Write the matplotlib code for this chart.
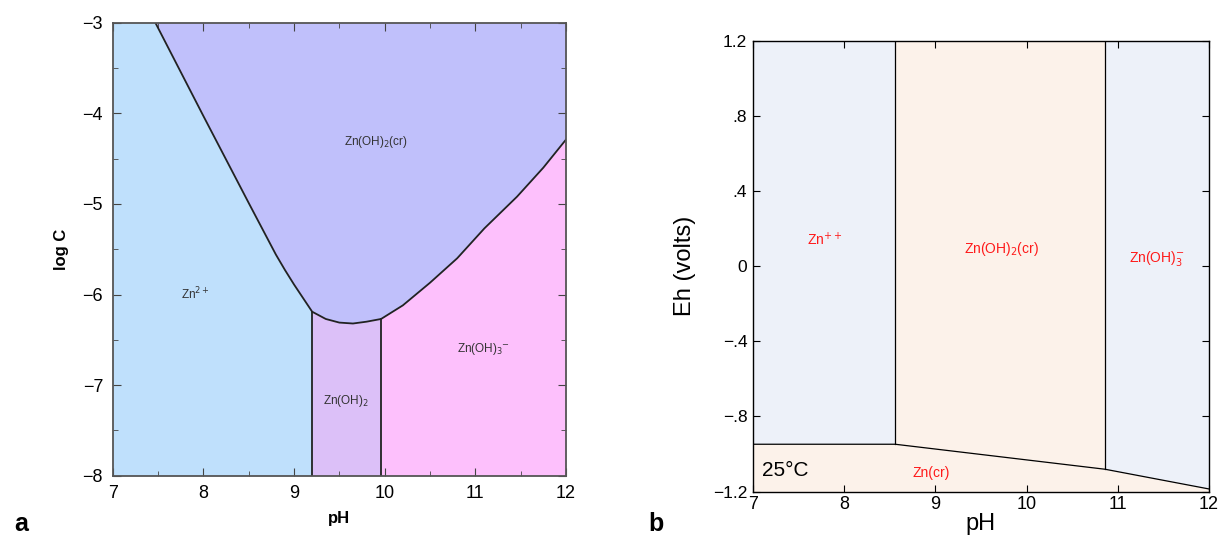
import matplotlib
matplotlib.use('Agg')
import matplotlib.pyplot as plt
import numpy as np

plt.rcParams['font.family'] = ['Liberation Sans', 'DejaVu Sans']

# panel a: log C - pH diagram (solubility boundary of Zn(OH)2(cr))
sol_ph = [7.47, 8.0, 8.5, 8.7, 8.8, 8.9, 9.0, 9.1, 9.2, 9.35, 9.5, 9.65, 9.8, 9.96,
          10.2, 10.5, 10.8, 11.1, 11.46, 11.75, 12.0]
sol_logc = [-3.0, -4.03, -4.99, -5.37, -5.56, -5.73, -5.89, -6.04, -6.19, -6.27, -6.31,
            -6.32, -6.3, -6.27, -6.12, -5.87, -5.6, -5.27, -4.92, -4.6, -4.29]
i_aq = 8      # index of pH 9.2 (Zn2+ / Zn(OH)2 boundary)
i_oh3 = 13    # index of pH 9.96 (Zn(OH)2 / Zn(OH)3- boundary)

# panel b: Eh - pH diagram
eh_ph = [7.0, 8.56, 10.86, 12.0]
eh_zn = [-0.948, -0.948, -1.081, -1.186]

fig = plt.figure(figsize=(12.19, 5.42), dpi=100)

# ---------------- panel a ----------------
ax = fig.add_axes([0.0925, 0.1223, 0.3718, 0.8358])
ax.set_xlim(7, 12)
ax.set_ylim(-8, -3)

x_a = [7.0] + sol_ph[:i_aq + 1]
y_a = [-3.0] + sol_logc[:i_aq + 1]
ax.fill_between(x_a, -8, y_a, color='#bfe0fc', lw=0)
ax.fill_between(sol_ph, sol_logc, -3, color='#c0c0fb', lw=0)
ax.fill_between(sol_ph[i_aq:i_oh3 + 1], -8, sol_logc[i_aq:i_oh3 + 1], color='#dcc0f8', lw=0)
ax.fill_between(sol_ph[i_oh3:], -8, sol_logc[i_oh3:], color='#fdc0fc', lw=0)

ax.plot(sol_ph, sol_logc, color='#222222', lw=1.3)
ax.plot([sol_ph[i_aq]] * 2, [-8, sol_logc[i_aq]], color='#222222', lw=1.3)
ax.plot([sol_ph[i_oh3]] * 2, [-8, sol_logc[i_oh3]], color='#222222', lw=1.3)

ax.text(9.9, -4.32, r'Zn(OH)$_2$(cr)', fontsize=8.5, ha='center', va='center', color='#333333')
ax.text(7.91, -5.99, r'Zn$^{2+}$', fontsize=8.5, ha='center', va='center', color='#333333')
ax.text(9.57, -7.17, r'Zn(OH)$_2$', fontsize=8.5, ha='center', va='center', color='#333333')
ax.text(11.09, -6.6, r'Zn(OH)$_3$$^{-}$', fontsize=8.5, ha='center', va='center', color='#333333')

ax.set_xticks(np.arange(7, 13, 1))
ax.set_xticks(np.arange(7, 12.01, 0.5), minor=True)
ax.set_yticks(np.arange(-8, -2, 1))
ax.set_yticks(np.arange(-8, -2.99, 0.5), minor=True)
ax.set_yticklabels(['\u22128', '\u22127', '\u22126', '\u22125', '\u22124', '\u22123'])
ax.tick_params(which='both', direction='in', top=True, right=True, labelsize=13,
               color='#444444', pad=7)
ax.tick_params(which='major', length=6)
ax.tick_params(which='minor', length=3.5)
for s in ax.spines.values():
    s.set_color('#555555')
    s.set_linewidth(1.3)
ax.set_xlabel('pH', fontsize=12, fontweight='bold', labelpad=6)
ax.set_ylabel('log C', fontsize=12, fontweight='bold', labelpad=10)

# ---------------- panel b ----------------
bx = fig.add_axes([0.6176, 0.0930, 0.3742, 0.8320])
bx.set_xlim(7, 12)
bx.set_ylim(-1.2, 1.2)

blue = '#edf1f9'
peach = '#fcf2ea'
bx.fill_between(eh_ph[:2], eh_zn[:2], 1.2, color=blue, lw=0)
bx.fill_between(eh_ph[1:3], eh_zn[1:3], 1.2, color=peach, lw=0)
bx.fill_between(eh_ph[2:], eh_zn[2:], 1.2, color=blue, lw=0)
bx.fill_between(eh_ph, -1.2, eh_zn, color=peach, lw=0)

bx.plot(eh_ph, eh_zn, color='black', lw=0.9)
bx.plot([eh_ph[1]] * 2, [eh_zn[1], 1.2], color='black', lw=0.9)
bx.plot([eh_ph[2]] * 2, [eh_zn[2], 1.2], color='black', lw=0.9)

red = '#ff1a1a'
bx.text(7.79, 0.14, r'Zn$^{++}$', fontsize=10, color=red, ha='center', va='center')
bx.text(9.72, 0.09, r'Zn(OH)$_2$(cr)', fontsize=10, color=red, ha='center', va='center')
bx.text(11.43, 0.04, r'Zn(OH)$_3^{-}$', fontsize=10, color=red, ha='center', va='center')
bx.text(8.95, -1.1, 'Zn(cr)', fontsize=10, color=red, ha='center', va='center')
bx.text(7.1, -1.09, '25\u00b0C', fontsize=15, color='black', ha='left', va='center')

bx.set_xticks(np.arange(7, 13, 1))
bx.set_yticks([-1.2, -0.8, -0.4, 0, 0.4, 0.8, 1.2])
bx.set_yticklabels(['\u22121.2', '\u2212.8', '\u2212.4', '0', '.4', '.8', '1.2'])
bx.tick_params(direction='in', top=True, right=True, labelsize=12.5, length=5, pad=4)
bx.tick_params(axis='x', labelsize=13, pad=3)
for s in bx.spines.values():
    s.set_linewidth(1.0)
bx.set_xlabel('pH', fontsize=17, labelpad=0)
bx.set_ylabel('Eh (volts)', fontsize=17, labelpad=12)

fig.text(0.012, 0.02, 'a', fontsize=18, fontweight='bold')
fig.text(0.532, 0.02, 'b', fontsize=18, fontweight='bold')

fig.savefig('out.png', dpi=100)
